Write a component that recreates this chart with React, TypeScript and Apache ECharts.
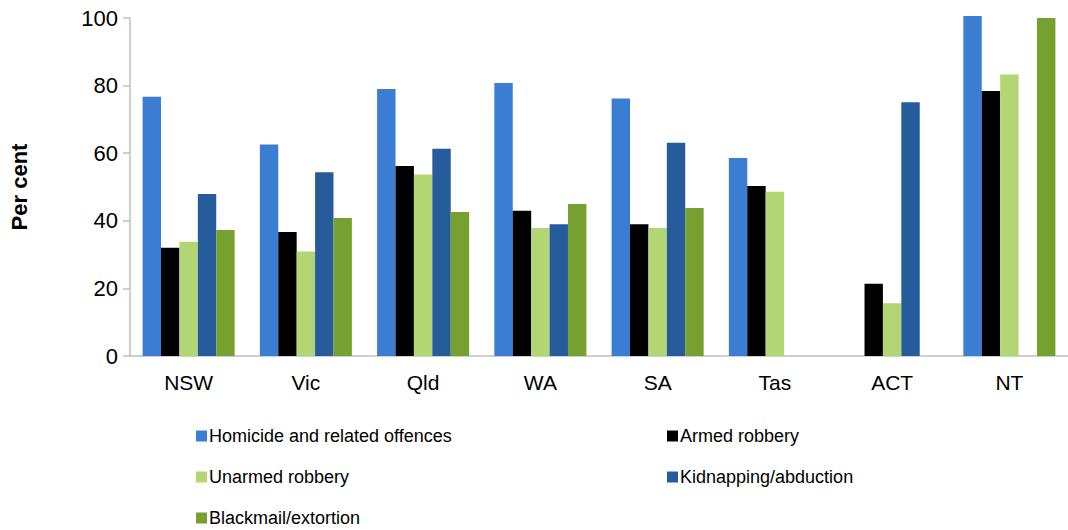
import React, { useEffect, useRef } from "react";
import * as echarts from "echarts";

const categories = ["NSW", "Vic", "Qld", "WA", "SA", "Tas", "ACT", "NT"];
const homicide = [76.7, 62.6, 79, 80.8, 76.2, 58.6, null, 100.6];
const armedRobbery = [32, 36.7, 56.2, 43, 39, 50.3, 21.4, 78.4];
const unarmedRobbery = [33.8, 30.9, 53.7, 37.9, 37.9, 48.6, 15.6, 83.3];
const kidnapping = [47.9, 54.4, 61.3, 39, 63.1, null, 75.1, null];
const blackmail = [37.3, 40.8, 42.6, 45, 43.8, null, null, 100];
const yTicks = [0, 20, 40, 60, 80, 100];

const FONT = "'Liberation Sans', Arial, sans-serif";

export default function App() {
  const ref = useRef<HTMLDivElement>(null);
  useEffect(() => {
    if (!ref.current) return;
    const chart = echarts.init(ref.current, undefined, { renderer: "svg" });
    const mk = (name: string, data: (number | null)[], color: string) => ({
      name,
      type: "bar",
      data,
      barGap: "0%",
      barCategoryGap: "21.5%",
      clip: false,
      itemStyle: { color },
    });
    const legendText = { fontSize: 18, color: "#000", fontFamily: FONT, padding: [0, 0, 0, -3] };
    const legendBase = {
      orient: "vertical",
      top: 427,
      height: 103,
      padding: 0,
      itemWidth: 11,
      itemHeight: 11,
      itemGap: 23,
      icon: "rect",
      textStyle: legendText,
    };
    chart.setOption({
      animation: false,
      textStyle: { fontFamily: FONT },
      grid: { left: 130, right: 0, top: 18, bottom: 174, containLabel: false },
      xAxis: {
        type: "category",
        data: categories,
        axisLine: { lineStyle: { color: "#BFBFBF", width: 1.5 } },
        axisTick: { show: false },
        axisLabel: { color: "#000", fontSize: 21, fontFamily: FONT, margin: 16 },
      },
      yAxis: {
        type: "value",
        min: yTicks[0],
        max: yTicks[yTicks.length - 1],
        interval: 20,
        name: "Per cent",
        nameLocation: "middle",
        nameGap: 100,
        nameTextStyle: { fontSize: 22, fontWeight: "bold", color: "#000", fontFamily: FONT },
        axisLine: { show: true, lineStyle: { color: "#BFBFBF", width: 1.5 } },
        axisTick: { show: true, length: 7, lineStyle: { color: "#BFBFBF", width: 1.5 } },
        splitLine: { show: false },
        axisLabel: { color: "#000", fontSize: 22, fontFamily: FONT, margin: 12 },
      },
      legend: [
        {
          ...legendBase,
          left: 196,
          data: ["Homicide and related offences", "Unarmed robbery", "Blackmail/extortion"],
        },
        {
          ...legendBase,
          left: 667,
          data: ["Armed robbery", "Kidnapping/abduction"],
        },
      ],
      series: [
        mk("Homicide and related offences", homicide, "#3A7DD3"),
        mk("Armed robbery", armedRobbery, "#000000"),
        mk("Unarmed robbery", unarmedRobbery, "#B3D675"),
        mk("Kidnapping/abduction", kidnapping, "#265C9C"),
        mk("Blackmail/extortion", blackmail, "#77A12F"),
      ],
    });
    return () => chart.dispose();
  }, []);
  return (
    <div
      ref={ref}
      style={{ position: "fixed", left: 0, top: 0, width: 1068, height: 530, background: "#fff" }}
    />
  );
}
